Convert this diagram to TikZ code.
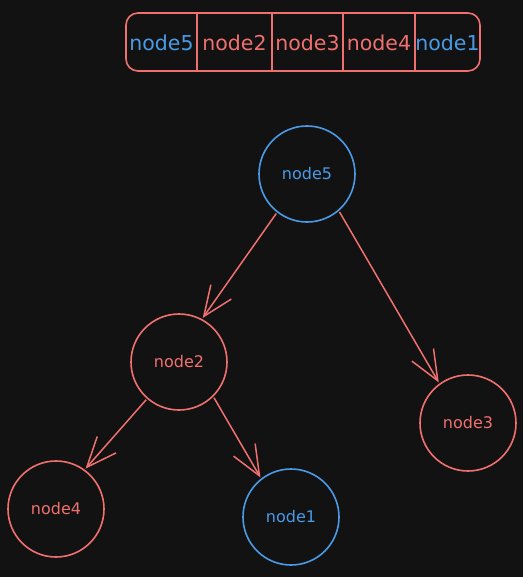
\documentclass[tikz,border=0pt]{standalone}
\usepackage{fontspec}
\setmainfont{DejaVu Sans}
\usetikzlibrary{arrows.meta}
\definecolor{bg}{HTML}{121212}
\definecolor{redc}{HTML}{F07070}
\definecolor{bluec}{HTML}{4A9AE6}
\tikzset{
  every picture/.style={x=1pt,y=-1pt},
  treenode/.style={circle,draw,line width=1.6pt,minimum size=96pt,inner sep=0pt,outer sep=0pt,font=\fontsize{16}{16}\selectfont},
  rednode/.style={treenode,draw=redc,text=redc},
  bluenode/.style={treenode,draw=bluec,text=bluec},
  cell/.style={inner sep=0pt,font=\fontsize{20.5}{21}\selectfont},
  link/.style={draw=redc,line width=1.5pt,-{Straight Barb[length=30pt,width=25pt,line width=1.5pt]},shorten <=2pt,shorten >=2pt},
  arraybox/.style={draw=redc,line width=1.6pt,rounded corners=12pt},
}
\begin{document}
\begin{tikzpicture}
\fill[bg] (0,0) rectangle (523,577);
\useasboundingbox (0,0) rectangle (523,577);
% array
\draw[arraybox] (126,13) rectangle (480,71);
\coordinate (d1t) at (197,13); \coordinate (d1b) at (197,71);
\coordinate (d2t) at (272,13); \coordinate (d2b) at (272,71);
\coordinate (d3t) at (343,13); \coordinate (d3b) at (343,71);
\coordinate (d4t) at (415,13); \coordinate (d4b) at (415,72);
\draw[draw=redc,line width=1.6pt] (d1t) -- (d1b) (d2t) -- (d2b) (d3t) -- (d3b) (d4t) -- (d4b);
\node[cell,text=bluec] (a1) at (161.5,43) {node5};
\node[cell,text=redc] (a2) at (234.5,43) {node2};
\node[cell,text=redc] (a3) at (307.5,43) {node3};
\node[cell,text=redc] (a4) at (379,43) {node4};
\node[cell,text=bluec] (a5) at (447.5,43) {node1};
% tree
\node[bluenode] (n5) at (307,174) {node5};
\node[rednode] (n2) at (179,362) {node2};
\node[rednode] (n3) at (468,423) {node3};
\node[rednode] (n4) at (56,509) {node4};
\node[bluenode] (n1) at (291,517) {node1};
\draw[link] (n5.-128) -- (n2.62);
\draw[link] (n5.-49) -- (n3.126);
\draw[link] (n2.-131) -- (n4.54);
\draw[link] (n2.-45) -- (n1.128);
\end{tikzpicture}
\end{document}
